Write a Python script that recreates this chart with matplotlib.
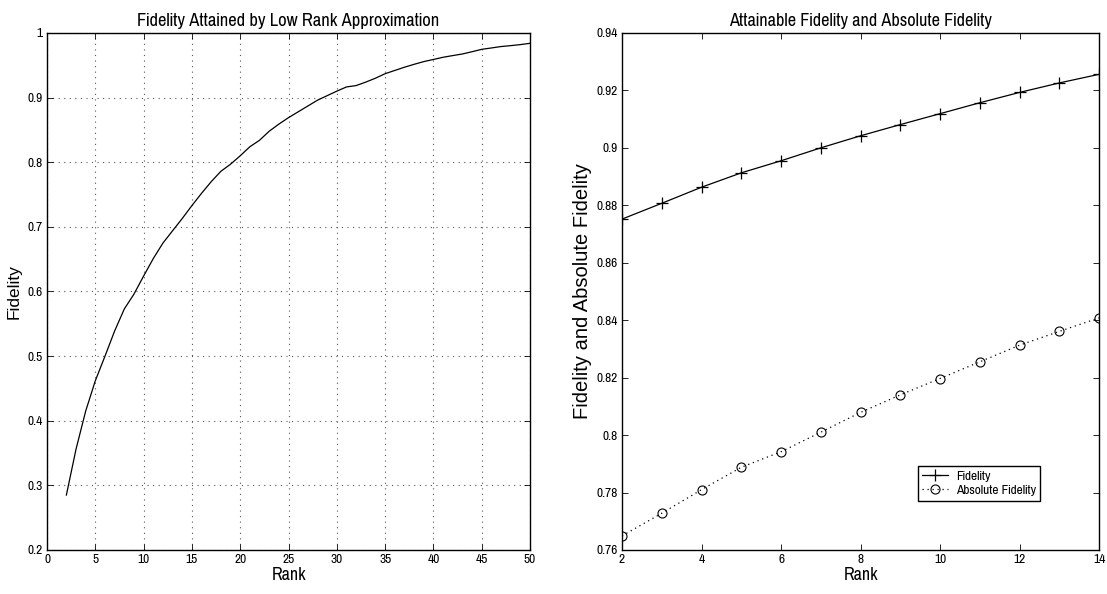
import matplotlib
matplotlib.use("Agg")
import matplotlib.pyplot as plt
from matplotlib import font_manager

# ---------------- data ----------------
rank_left = list(range(2, 51))
fidelity_left = [0.285, 0.356, 0.415, 0.462, 0.500, 0.539, 0.573, 0.596, 0.624,
                 0.651, 0.675, 0.694, 0.713, 0.733, 0.752, 0.770, 0.786, 0.797,
                 0.810, 0.824, 0.834, 0.848, 0.859, 0.869, 0.878, 0.887, 0.896,
                 0.903, 0.910, 0.9165, 0.9186, 0.924, 0.930, 0.937, 0.942, 0.947,
                 0.9515, 0.9557, 0.959, 0.9624, 0.965, 0.9675, 0.971, 0.9747,
                 0.9768, 0.979, 0.9804, 0.982, 0.984]

rank_right = list(range(2, 15))
fidelity_right = [0.8752, 0.8807, 0.8863, 0.8913, 0.8955, 0.9000, 0.9042,
                  0.9081, 0.9119, 0.9157, 0.9193, 0.9226, 0.9256]
abs_fidelity = [0.7649, 0.7728, 0.7810, 0.7888, 0.7942, 0.8010, 0.8079,
                0.8140, 0.8197, 0.8255, 0.8313, 0.8361, 0.8408]

left_xticks = [0, 5, 10, 15, 20, 25, 30, 35, 40, 45, 50]
left_yticks = [0.2, 0.3, 0.4, 0.5, 0.6, 0.7, 0.8, 0.9, 1.0]
left_yticklabels = ["0.2", "0.3", "0.4", "0.5", "0.6", "0.7", "0.8", "0.9", "1"]
right_xticks = [2, 4, 6, 8, 10, 12, 14]
right_yticks = [0.76, 0.78, 0.80, 0.82, 0.84, 0.86, 0.88, 0.90, 0.92, 0.94]
right_yticklabels = ["0.76", "0.78", "0.8", "0.82", "0.84", "0.86", "0.88", "0.9", "0.92", "0.94"]

# ---------------- fonts ----------------
names = {f.name for f in font_manager.fontManager.ttflist}
narrow = "Liberation Sans"
for cand in ["Liberation Sans Narrow", "Pragati Narrow", "Roboto Condensed",
             "Archivo Narrow", "PT Sans Narrow", "Open Sans Condensed"]:
    if cand in names:
        narrow = cand
        break
wide = "Liberation Sans"

plt.rcParams["font.family"] = [narrow, "DejaVu Sans"]
plt.rcParams["xtick.direction"] = "in"
plt.rcParams["ytick.direction"] = "in"

fig = plt.figure(figsize=(11.07, 5.94), dpi=100)
axL = fig.add_axes([0.0425, 0.0741, 0.4363, 0.8704])
axR = fig.add_axes([0.5619, 0.0741, 0.4309, 0.8704])

def style(ax):
    for s in ax.spines.values():
        s.set_linewidth(1.0)
        s.set_color("black")
    ax.tick_params(axis="both", which="both", top=True, right=True,
                   length=4, width=0.6, labelsize=10.5, pad=3, colors="black")

# ---------------- left ----------------
axL.plot(rank_left, fidelity_left, color="black", linewidth=0.9)
axL.set_xlim(0, 50)
axL.set_ylim(0.2, 1.0)
axL.set_xticks(left_xticks)
axL.set_yticks(left_yticks)
axL.set_yticklabels(left_yticklabels)
axL.grid(True, linestyle=(0, (1, 4)), color="#555555", linewidth=0.8)
style(axL)
axL.set_title("Fidelity Attained by Low Rank Approximation", fontsize=14.5, pad=5)
axL.set_xlabel("Rank", fontsize=14, labelpad=1)
axL.set_ylabel("Fidelity", fontsize=12.5, family=[wide, "DejaVu Sans"])
axL.yaxis.set_label_coords(-0.052, 0.5)

# ---------------- right ----------------
axR.plot(rank_right, fidelity_right, color="black", linewidth=0.9, marker="+",
         markersize=8, markeredgewidth=0.9, label="Fidelity")
axR.plot(rank_right, abs_fidelity, color="black", linewidth=0.9, linestyle=(0, (1, 3)),
         marker="o", markersize=6.5, markerfacecolor="none", markeredgewidth=0.8,
         label="Absolute Fidelity")
axR.set_xlim(2, 14)
axR.set_ylim(0.76, 0.94)
axR.set_xticks(right_xticks)
axR.set_yticks(right_yticks)
axR.set_yticklabels(right_yticklabels)
style(axR)
axR.set_title("Attainable Fidelity and Absolute Fidelity", fontsize=14.3, pad=5)
axR.set_xlabel("Rank", fontsize=14, labelpad=1)
axR.set_ylabel("Fidelity and Absolute Fidelity", fontsize=14.5,
               family=[wide, "DejaVu Sans"])
axR.yaxis.set_label_coords(-0.063, 0.5)
leg = axR.legend(loc="lower left", bbox_to_anchor=(0.62, 0.095), fontsize=10.5,
                 frameon=True, fancybox=False, edgecolor="black", framealpha=1,
                 handlelength=1.8, borderpad=0.3, labelspacing=0.15,
                 handletextpad=0.5, borderaxespad=0)
leg.get_frame().set_linewidth(1.0)

fig.savefig("out.png", dpi=100)
